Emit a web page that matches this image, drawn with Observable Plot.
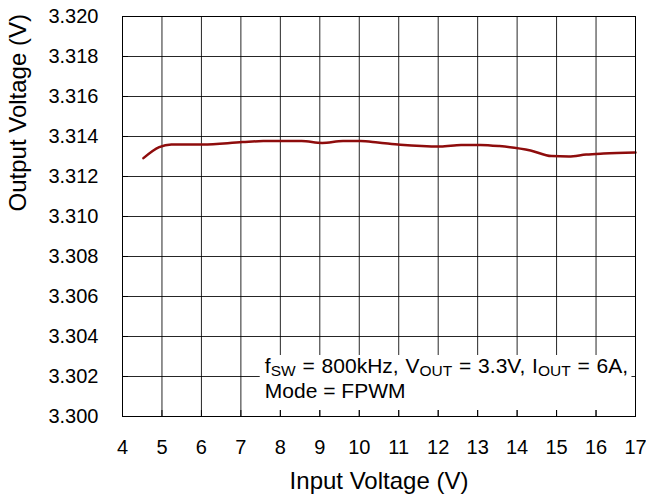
<!DOCTYPE html>
<html>
<head>
<meta charset="utf-8">
<script src="https://cdn.jsdelivr.net/npm/d3@7"></script>
<script src="https://cdn.jsdelivr.net/npm/@observablehq/plot@0.6"></script>
<style>
  html, body { margin: 0; padding: 0; background: #fff; }
</style>
</head>
<body>
<div id="chart"></div>
<script>
// Input voltage (V) and output voltage (V)
const vin  = [4.53, 4.93, 5.24, 6.03, 7.04, 7.57, 8.54, 9.06, 9.59, 10.03, 10.47, 11.04, 12.06, 12.58, 13.07, 13.55, 14.34, 14.87, 15.31, 15.75, 16.19, 17.0];
const vout = [3.31292, 3.31347, 3.3136, 3.3136, 3.31372, 3.31377, 3.31377, 3.31368, 3.31377, 3.31377, 3.3137, 3.31359, 3.3135, 3.31358, 3.31358, 3.31352, 3.3133, 3.31302, 3.313, 3.3131, 3.31315, 3.3132];

const xTicks = [4, 5, 6, 7, 8, 9, 10, 11, 12, 13, 14, 15, 16, 17];
const yTicks = [3.300, 3.302, 3.304, 3.306, 3.308, 3.310, 3.312, 3.314, 3.316, 3.318, 3.320];

const xTitle = "Input Voltage (V)";
const yTitle = "Output Voltage (V)";

// annotation box (data coordinates) and its two text lines, as rich segments
const noteBox = [{x1: 7.49, x2: 16.91, y1: 3.3003, y2: 3.30305}];
const noteAnchor = {x: 7.62, y: [3.30215, 3.3009]};
const noteLine1 = [["f", ""], ["SW", "sub"], [" = 800kHz, V", ""], ["OUT", "sub"], [" = 3.3V, I", ""], ["OUT", "sub"], [" = 6A,", ""]];
const noteLine2 = [["Mode = FPWM", ""]];

const data = vin.map((v, i) => ({vin: v, vout: vout[i]}));

const chart = Plot.plot({
  width: 646,
  height: 497,
  marginLeft: 122,
  marginRight: 11,
  marginTop: 16,
  marginBottom: 81,
  x: {domain: [4, 17]},
  y: {domain: [3.300, 3.320]},
  style: {fontFamily: "Arial, 'Liberation Sans', sans-serif", fontSize: "20px", color: "#000", background: "#fff"},
  marks: [
    Plot.gridX({ticks: xTicks, stroke: "#000", strokeOpacity: 0.85}),
    Plot.gridY({ticks: yTicks, stroke: "#000", strokeOpacity: 0.85}),
    Plot.rect(noteBox, {x1: "x1", x2: "x2", y1: "y1", y2: "y2", fill: "#fff"}),
    Plot.ruleX(xTicks, {x: d => d, insetTop: 394, stroke: "#000"}),
    Plot.ruleY(yTicks, {y: d => d, insetRight: 507, stroke: "#000"}),
    Plot.line(data, {x: "vin", y: "vout", stroke: "#8E0C0C", strokeWidth: 2.5, curve: "monotone-x"}),
    Plot.frame({stroke: "#000"}),
    Plot.axisX({ticks: xTicks, tickSize: 0, tickPadding: 23, label: null, fontSize: 20}),
    Plot.axisY({ticks: yTicks, tickSize: 0, tickPadding: 24, tickFormat: d3.format(".3f"), label: null, fontSize: 20}),
    Plot.text([xTitle], {frameAnchor: "bottom", dy: 65, fontSize: 24, lineAnchor: "middle"}),
    Plot.text([yTitle], {frameAnchor: "left", dx: -104, dy: -5, rotate: -90, fontSize: 24, lineAnchor: "middle"})
  ]
});

document.getElementById("chart").appendChild(chart);

// rich-text annotation with subscripts, positioned through the chart's scales
const sx = chart.scale("x"), sy = chart.scale("y");
const g = d3.select(chart).append("g")
  .attr("font-family", "Arial, 'Liberation Sans', sans-serif")
  .attr("font-size", 21)
  .attr("text-anchor", "start")
  .attr("fill", "#000");
[noteLine1, noteLine2].forEach((segs, li) => {
  const t = g.append("text")
    .attr("text-anchor", "start")
    .attr("word-spacing", li === 0 ? 1 : 0)
    .attr("x", sx.apply(noteAnchor.x))
    .attr("y", sy.apply(noteAnchor.y[li]));
  let shifted = false;
  segs.forEach(([s, kind]) => {
    const ts = t.append("tspan").text(s);
    if (kind === "sub") {
      ts.attr("font-size", 15.5);
      if (!shifted) { ts.attr("dy", 3); shifted = true; }
    } else if (shifted) {
      ts.attr("dy", -3); shifted = false;
    }
  });
});
</script>
</body>
</html>
